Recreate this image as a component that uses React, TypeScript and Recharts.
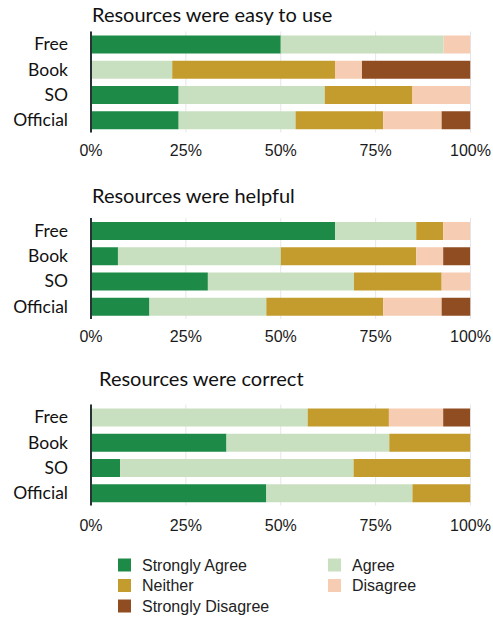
import { Bar, BarChart, CartesianGrid, XAxis, YAxis } from "recharts";

const CATEGORIES = ["Free", "Book", "SO", "Official"];

const SERIES = [
  { key: "sa", name: "Strongly Agree", color: "#1d8a47" },
  { key: "a", name: "Agree", color: "#c9e0c0" },
  { key: "n", name: "Neither", color: "#c49c2e" },
  { key: "d", name: "Disagree", color: "#f6ccb2" },
  { key: "sd", name: "Strongly Disagree", color: "#914d22" },
];

const TICKS = [0, 25, 50, 75, 100];

// percentages, in CATEGORIES order
const EASY_SA = [50, 0, 23.1, 23.1];
const EASY_A = [42.9, 21.4, 38.5, 30.8];
const EASY_N = [0, 42.9, 23.1, 23.1];
const EASY_D = [7.1, 7.1, 15.4, 15.4];
const EASY_SD = [0, 28.6, 0, 7.7];

const HELPFUL_SA = [64.3, 7.1, 30.8, 15.4];
const HELPFUL_A = [21.4, 42.9, 38.5, 30.8];
const HELPFUL_N = [7.1, 35.7, 23.1, 30.8];
const HELPFUL_D = [7.1, 7.1, 7.7, 15.4];
const HELPFUL_SD = [0, 7.1, 0, 7.7];

const CORRECT_SA = [0, 35.7, 7.7, 46.2];
const CORRECT_A = [57.1, 42.9, 61.5, 38.5];
const CORRECT_N = [21.4, 21.4, 30.8, 15.4];
const CORRECT_D = [14.3, 0, 0, 0];
const CORRECT_SD = [7.1, 0, 0, 0];

const buildRows = (sa: number[], a: number[], n: number[], d: number[], sd: number[]) =>
  CATEGORIES.map((name, i) => ({ name, sa: sa[i], a: a[i], n: n[i], d: d[i], sd: sd[i] }));

const PLOT_H = 101;
const LABEL_FONT = "Lato, 'Open Sans', sans-serif";
const TICK_FONT = "'Liberation Sans', Arial, sans-serif";

interface LikertProps {
  rows: any[];
  top: number;
  plotTop: number;
  tickMargin: number;
}

function LikertChart({ rows, top, plotTop, tickMargin }: LikertProps) {
  const marginTop = plotTop - top;
  return (
    <div style={{ position: "absolute", left: 0, top }}>
      <BarChart
        layout="vertical"
        width={493}
        height={marginTop + PLOT_H + 34}
        data={rows}
        barSize={18}
        margin={{ top: marginTop, right: 22.5, bottom: 0, left: 0 }}
      >
        <CartesianGrid horizontal={false} stroke="#e6e6ea" strokeWidth={1} />
        <XAxis
          type="number"
          domain={[0, 100]}
          ticks={TICKS}
          allowDataOverflow
          tickFormatter={(v: number) => `${v}%`}
          axisLine={false}
          tickLine={false}
          tickSize={0}
          tickMargin={tickMargin}
          height={34}
          interval={0}
          tick={{ fill: "#1a1a1a", fontSize: 16, fontFamily: TICK_FONT }}
        />
        <YAxis
          type="category"
          dataKey="name"
          width={91}
          interval={0}
          tickLine={false}
          tickSize={0}
          tickMargin={23}
          axisLine={{ stroke: "#263333", strokeWidth: 2 }}
          tick={{ fill: "#111", fontSize: 17.5, fontFamily: LABEL_FONT }}
        />
        {SERIES.map((s) => (
          <Bar key={s.key} dataKey={s.key} name={s.name} stackId="a" fill={s.color} isAnimationActive={false} />
        ))}
      </BarChart>
    </div>
  );
}

export default function App() {
  const legendCols = [118, 328];
  const legendRows = [565, 585.5, 606];
  return (
    <div style={{ position: "absolute", left: 0, top: 0, width: 493, height: 617, background: "#fff" }}>
      <LikertChart rows={buildRows(EASY_SA, EASY_A, EASY_N, EASY_D, EASY_SD)} top={0} plotTop={31.5} tickMargin={12} />
      <LikertChart
        rows={buildRows(HELPFUL_SA, HELPFUL_A, HELPFUL_N, HELPFUL_D, HELPFUL_SD)}
        top={190}
        plotTop={218}
        tickMargin={12}
      />
      <LikertChart
        rows={buildRows(CORRECT_SA, CORRECT_A, CORRECT_N, CORRECT_D, CORRECT_SD)}
        top={376}
        plotTop={404.5}
        tickMargin={14}
      />
      <svg width={493} height={617} style={{ position: "absolute", left: 0, top: 0, pointerEvents: "none" }}>
        <g fontFamily={LABEL_FONT} fontSize={20} fill="#111">
          <text x={92} y={22}>Resources were easy to use</text>
          <text x={92} y={203}>Resources were helpful</text>
          <text x={99} y={386}>Resources were correct</text>
        </g>
        <g fontFamily={TICK_FONT} fontSize={16} fill="#222">
          {SERIES.map((s, i) => {
            const x = legendCols[i % 2];
            const y = legendRows[Math.floor(i / 2)];
            return (
              <g key={s.key}>
                <rect x={x} y={y - 6.5} width={13} height={13} fill={s.color} />
                <text x={x + 24} y={y} dominantBaseline="central">
                  {s.name}
                </text>
              </g>
            );
          })}
        </g>
      </svg>
    </div>
  );
}
